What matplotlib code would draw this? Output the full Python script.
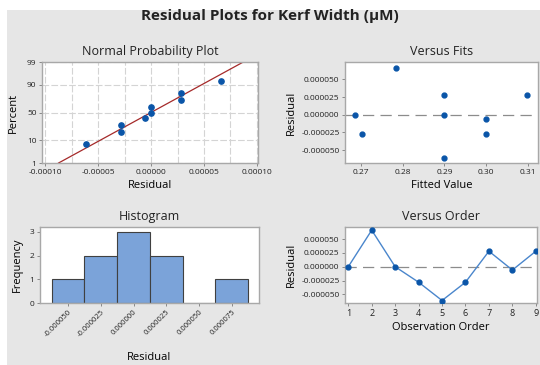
from statistics import NormalDist
import numpy as np
import matplotlib.pyplot as plt
from matplotlib.patches import Rectangle
from matplotlib.ticker import FuncFormatter

# residuals in observation order and the matching fitted values
order = [1, 2, 3, 4, 5, 6, 7, 8, 9]
residuals = [0.0, 0.000066, 0.0, -0.000028, -0.000061, -0.000028, 0.000028, -0.000006, 0.000028]
fits = [0.2687, 0.2783, 0.29, 0.2703, 0.29, 0.30, 0.29, 0.30, 0.3097]

# histogram
hist_centers = [-0.00005, -0.000025, 0.0, 0.000025, 0.00005, 0.000075]
hist_counts = [1, 2, 3, 2, 0, 1]
hist_labels = ["-0.000050", "-0.000025", "0.000000", "0.000025", "0.000050", "0.000075"]

prob_ticks = [1, 10, 50, 90, 99]

W, H = 540, 365
BLUE = "#0a55a8"
GRID = "#d4d4d4"
SPINE = "#a8a8a8"

plt.rcParams['font.family'] = ['Open Sans', 'DejaVu Sans']
plt.rcParams['font.size'] = 6

fig = plt.figure(figsize=(W / 100, H / 100), dpi=100)
fig.patch.set_facecolor("white")
fig.patches.append(Rectangle((7 / W, -0.1), 2, 1.1 - 10 / H, transform=fig.transFigure,
                             facecolor="#e6e6e6", edgecolor="none", zorder=-10))


def rect(x0, y0, x1, y1):
    return [x0 / W, 1 - y1 / H, (x1 - x0) / W, (y1 - y0) / H]


def style(ax):
    for s in ax.spines.values():
        s.set_color(SPINE)
        s.set_linewidth(1.0)
    ax.tick_params(length=2.5, width=0.7, color="#888888", labelsize=6, pad=1.5,
                   labelcolor="#222222")


fig.text(270 / W, 1 - 16 / H, "Residual Plots for Kerf Width (µM)", ha="center", va="center",
         fontsize=11, fontweight="bold", color="#222222")

nd = NormalDist()

# ---- Normal probability plot
ax1 = fig.add_axes(rect(42, 62, 258, 163))
style(ax1)
srt = np.sort(residuals)
n = len(srt)
pct = [(i - 0.3) / (n + 0.4) for i in range(1, n + 1)]
z = [nd.inv_cdf(p) for p in pct]
mu = np.mean(residuals)
sd = np.std(residuals, ddof=1)
zl = np.array([nd.inv_cdf(0.01), nd.inv_cdf(0.99)])
ax1.plot(mu + sd * zl, zl, color="#a52a2a", lw=0.9, zorder=2)
ax1.plot(srt, z, "o", color=BLUE, ms=3.8, zorder=3)
ax1.set_xlim(-0.000103, 0.000101)
ax1.set_ylim(zl[0], zl[1])
ax1.set_yticks([nd.inv_cdf(p / 100) for p in prob_ticks])
ax1.set_yticklabels([str(p) for p in prob_ticks])
ax1.set_xticks(np.arange(-0.0001, 0.000101, 0.00005))
ax1.xaxis.set_major_formatter(FuncFormatter(lambda v, p: f"{v:.5f}"))
for gx in np.arange(-0.0001, 0.000101, 0.000025):
    ax1.axvline(gx, color=GRID, lw=0.8, ls=(0, (6, 2)), zorder=0)
for gy in ax1.get_yticks():
    ax1.axhline(gy, color=GRID, lw=0.8, ls=(0, (6, 2)), zorder=0)
ax1.set_title("Normal Probability Plot", fontsize=9, pad=5, color="#222222")
ax1.set_xlabel("Residual", fontsize=8, labelpad=3)
ax1.set_ylabel("Percent", fontsize=8, labelpad=6)

# ---- Versus fits
ax2 = fig.add_axes(rect(345, 62, 538, 163))
style(ax2)
ax2.axhline(0, color="#8c8c8c", lw=0.9, ls=(0, (9, 5)), zorder=1)
ax2.plot(fits, residuals, "o", color=BLUE, ms=3.5, zorder=3)
ax2.set_xlim(0.2662, 0.3124)
ax2.set_ylim(-0.0000684, 0.0000746)
ax2.set_xticks([0.27, 0.28, 0.29, 0.30, 0.31])
ax2.xaxis.set_major_formatter(FuncFormatter(lambda v, p: f"{v:.2f}"))
ax2.set_yticks([-0.00005, -0.000025, 0, 0.000025, 0.00005])
ax2.yaxis.set_major_formatter(FuncFormatter(lambda v, p: f"{v:.6f}"))
ax2.set_title("Versus Fits", fontsize=9, pad=5, color="#222222")
ax2.set_xlabel("Fitted Value", fontsize=8, labelpad=3)
ax2.set_ylabel("Residual", fontsize=8, labelpad=3)

# ---- Histogram
ax3 = fig.add_axes(rect(40, 227, 259, 303))
style(ax3)
ax3.bar(hist_centers, hist_counts, width=0.000025, color="#7ba3d9", edgecolor="#404040",
        linewidth=0.8, zorder=2)
ax3.set_xlim(-0.0000714, 0.0000957)
ax3.set_ylim(0, 3.2)
ax3.set_yticks([0, 1, 2, 3])
ax3.set_xticks(hist_centers)
ax3.set_xticklabels(hist_labels, rotation=45, ha="right", rotation_mode="anchor", fontsize=5.5)
ax3.set_title("Histogram", fontsize=9, pad=5, color="#222222")
ax3.set_xlabel("Residual", fontsize=8, labelpad=10)
ax3.set_ylabel("Frequency", fontsize=8, labelpad=5)

# ---- Versus order
ax4 = fig.add_axes(rect(345, 227, 537, 303))
style(ax4)
ax4.axhline(0, color="#8c8c8c", lw=0.9, ls=(0, (9, 5)), zorder=1)
ax4.plot(order, residuals, "-", color="#4a86cc", lw=1.0, zorder=2)
ax4.plot(order, residuals, "o", color=BLUE, ms=3.5, zorder=3)
ax4.set_xlim(0.86, 9.05)
ax4.set_ylim(-0.0000655, 0.0000717)
ax4.set_xticks(order)
ax4.set_yticks([-0.00005, -0.000025, 0, 0.000025, 0.00005])
ax4.yaxis.set_major_formatter(FuncFormatter(lambda v, p: f"{v:.6f}"))
ax4.tick_params(axis="x", labelsize=6.5)
ax4.set_title("Versus Order", fontsize=9, pad=5, color="#222222")
ax4.set_xlabel("Observation Order", fontsize=8, labelpad=3)
ax4.set_ylabel("Residual", fontsize=8, labelpad=3)

fig.savefig("out.png", dpi=100)
